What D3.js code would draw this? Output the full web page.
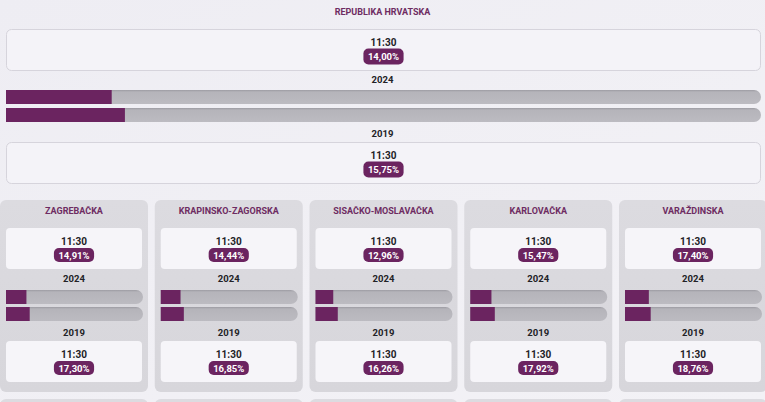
<!DOCTYPE html>
<html><head><meta charset="utf-8">
<script src="https://cdn.jsdelivr.net/npm/d3@7"></script>
<style>
html,body{margin:0;padding:0;background:#f0eff4;overflow:hidden}
svg{display:block;font-family:Roboto,"Noto Sans",sans-serif}
</style></head>
<body>
<script>
// ---- data ----
const nationalTitle = "REPUBLIKA HRVATSKA";
const timeLabel = "11:30";
const yearLabels = ["2024", "2019"];
const national2024 = 14.00;
const national2019 = 15.75;
const regions = ["ZAGREBAČKA", "KRAPINSKO-ZAGORSKA", "SISAČKO-MOSLAVAČKA", "KARLOVAČKA", "VARAŽDINSKA"];
const turnout2024 = [14.91, 14.44, 12.96, 15.47, 17.40];
const turnout2019 = [17.30, 16.85, 16.26, 17.92, 18.76];

// ---- layout ----
const W = 765, H = 402;
const PURPLE = "#6b2460", TITLE = "#6e2c62", DARK = "#222226";
const fmt = v => d3.format(".2f")(v).replace(".", ",") + "%";

const svg = d3.select("body").append("svg").attr("width", W).attr("height", H);
const defs = svg.append("defs");
const bg = defs.append("linearGradient").attr("id", "bg").attr("x1", 0).attr("y1", 0).attr("x2", 1).attr("y2", 1);
bg.append("stop").attr("offset", 0).attr("stop-color", "#eeedf3");
bg.append("stop").attr("offset", 1).attr("stop-color", "#f3f2f6");
svg.append("rect").attr("width", W).attr("height", H).attr("fill", "url(#bg)");

const tg = defs.append("linearGradient").attr("id", "track").attr("x1", 0).attr("y1", 0).attr("x2", 0).attr("y2", 1);
tg.append("stop").attr("offset", 0).attr("stop-color", "#9c9ba2");
tg.append("stop").attr("offset", 0.14).attr("stop-color", "#b5b4ba");
tg.append("stop").attr("offset", 1).attr("stop-color", "#bcbbc1");

const cg = defs.append("linearGradient").attr("id", "card").attr("x1", 0).attr("y1", 0).attr("x2", 0).attr("y2", 1);
cg.append("stop").attr("offset", 0).attr("stop-color", "#dcdbe0");
cg.append("stop").attr("offset", 1).attr("stop-color", "#d7d6db");

function text(g, x, y, t, size, color) {
  return g.append("text").attr("x", x).attr("y", y).attr("text-anchor", "middle")
    .attr("dominant-baseline", "central").attr("font-size", size).attr("font-weight", 700)
    .attr("fill", color).text(t);
}
function pill(g, cx, cy, value, h) {
  const t = text(g, cx, cy, fmt(value), 9.5, "#ffffff");
  const w = t.node().getComputedTextLength() + 9;
  g.insert("rect", () => t.node()).attr("x", cx - w / 2).attr("y", cy - h / 2)
    .attr("width", w).attr("height", h).attr("rx", 5).attr("fill", PURPLE);
}
function timeBox(g, x, y, w, h, value, opts) {
  g.append("rect").attr("x", x).attr("y", y).attr("width", w).attr("height", h).attr("rx", opts.rx)
    .attr("fill", opts.fill).attr("stroke", opts.stroke || "none").attr("stroke-width", 1);
  text(g, x + w / 2, y + 13, timeLabel, 10, DARK);
  pill(g, x + w / 2, y + 27, value, opts.pillH);
}
function bar(g, x, y, w, h, value) {
  const sx = d3.scaleLinear().domain([0, 100]).range([0, w]);
  const r = h / 2;
  g.append("path").attr("d",
    `M${x},${y}H${x + w - r}A${r},${r} 0 0 1 ${x + w - r},${y + h}H${x}Z`)
    .attr("fill", "url(#track)");
  g.append("rect").attr("x", x).attr("y", y).attr("width", sx(value)).attr("height", h).attr("fill", PURPLE);
}

// ---- national section ----
const natG = svg.append("g");
text(natG, W / 2, 12, nationalTitle, 9, TITLE);
timeBox(natG, 6.5, 29.5, 754, 41, national2024, { rx: 5, fill: "#f4f3f8", stroke: "#d6d4dc", pillH: 16 });
text(natG, W / 2, 79, yearLabels[0], 9.5, DARK);
bar(natG, 6, 90, 755, 14, national2024);
bar(natG, 6, 108, 755, 14, national2019);
text(natG, W / 2, 133, yearLabels[1], 9.5, DARK);
timeBox(natG, 6.5, 142.5, 754, 41, national2019, { rx: 5, fill: "#f4f3f8", stroke: "#d6d4dc", pillH: 16 });

// ---- region cards ----
const xb = d3.scaleBand().domain(regions).range([0, 767]).paddingInner(0.0436);
const cardY = 200, cardH = 192;
const cards = svg.selectAll("g.card").data(regions).join("g").attr("class", "card")
  .attr("transform", d => `translate(${xb(d)},${cardY})`);
cards.each(function (d, i) {
  const g = d3.select(this);
  const w = xb.bandwidth();
  g.append("rect").attr("width", w).attr("height", cardH).attr("rx", 6).attr("fill", "url(#card)");
  text(g, w / 2, 11, d, 9, TITLE);
  timeBox(g, 6, 28, w - 12, 41, turnout2024[i], { rx: 4, fill: "#f6f5f9", pillH: 14 });
  text(g, w / 2, 78, yearLabels[0], 9.5, DARK);
  bar(g, 6, 90, w - 11, 14, turnout2024[i]);
  bar(g, 6, 107, w - 11, 14, turnout2019[i]);
  text(g, w / 2, 132, yearLabels[1], 9.5, DARK);
  timeBox(g, 6, 141, w - 12, 41, turnout2019[i], { rx: 4, fill: "#f6f5f9", pillH: 14 });
});
// top edge of the next row of cards (cut off by the window)
svg.selectAll("rect.next").data(regions).join("rect").attr("class", "next")
  .attr("x", d => xb(d)).attr("y", 399).attr("width", xb.bandwidth()).attr("height", 20)
  .attr("rx", 6).attr("fill", "#dcdbe0");
</script>
</body></html>
